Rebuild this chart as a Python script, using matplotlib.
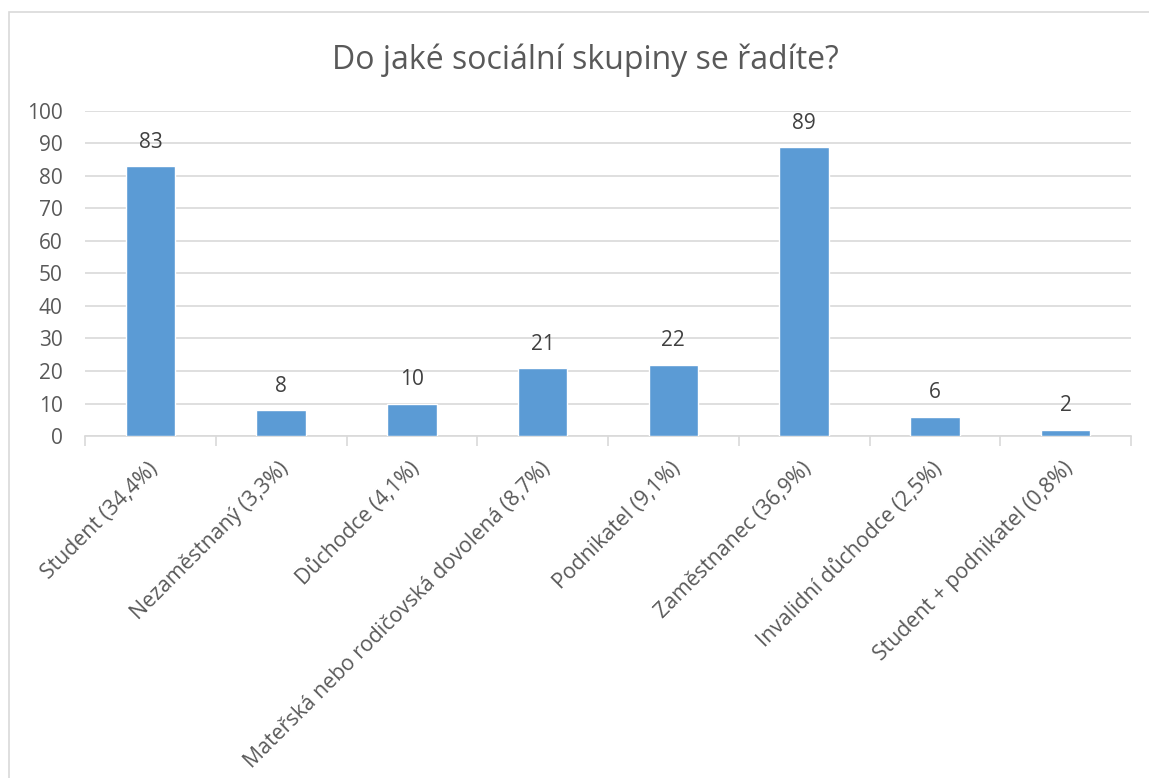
import matplotlib
matplotlib.use("Agg")
import matplotlib.pyplot as plt
from matplotlib.patches import Rectangle

categories = ["Student (34,4%)", "Nezaměstnaný (3,3%)", "Důchodce (4,1%)",
              "Mateřská nebo rodičovská dovolená (8,7%)", "Podnikatel (9,1%)",
              "Zaměstnanec (36,9%)", "Invalidní důchodce (2,5%)",
              "Student + podnikatel (0,8%)"]
values = [83, 8, 10, 21, 22, 89, 6, 2]
yticks = [0, 10, 20, 30, 40, 50, 60, 70, 80, 90, 100]
title = "Do jaké sociální skupiny se řadíte?"

plt.rcParams['font.family'] = ['Open Sans', 'DejaVu Sans']
txt = '#595959'
W, H = 1149, 778
fig = plt.figure(figsize=(W/100, H/100), dpi=100)
fig.patches.append(Rectangle((8.5/W, -0.01), 1.0, (H-12)/H + 0.01, transform=fig.transFigure,
                             fill=False, edgecolor='#D9D9D9', linewidth=1.2))

ax = fig.add_axes([85/W, 1-436/H, (1131-85)/W, (436-111)/H])
x = list(range(len(values)))
ax.bar(x, values, width=0.38, color='#5B9BD5', edgecolor='white', linewidth=1, zorder=3)
for xi, v in zip(x, values):
    ax.annotate(str(v), (xi, v), xytext=(0, 13), textcoords='offset points',
                ha='center', va='baseline', fontsize=15, color='#404040')

ax.set_xlim(-0.5, len(values)-0.5)
ax.set_ylim(0, 100)
ax.set_yticks(yticks)
ax.set_yticklabels([str(t) for t in yticks], fontsize=15, color=txt)
ax.yaxis.grid(True, color='#D9D9D9', linewidth=1.2, zorder=0)
ax.tick_params(axis='y', length=0, pad=16)
for s in ['top', 'right', 'left']:
    ax.spines[s].set_visible(False)
ax.spines['bottom'].set_color('#D9D9D9')
ax.spines['bottom'].set_linewidth(1.2)

ax.set_xticks([i - 0.5 for i in range(len(values)+1)])
ax.set_xticklabels([])
ax.tick_params(axis='x', length=7, color='#D9D9D9', width=1.2)
for xi, c in zip(x, categories):
    ax.annotate(c, (xi, 0), xytext=(-2, -16), textcoords='offset points',
                rotation=45, ha='right', va='top', rotation_mode='anchor',
                fontsize=15.3, color=txt)

fig.text(585/W, 1-60/H, title, ha='center', va='center', fontsize=23, color=txt)
fig.savefig('out.png', dpi=100)
